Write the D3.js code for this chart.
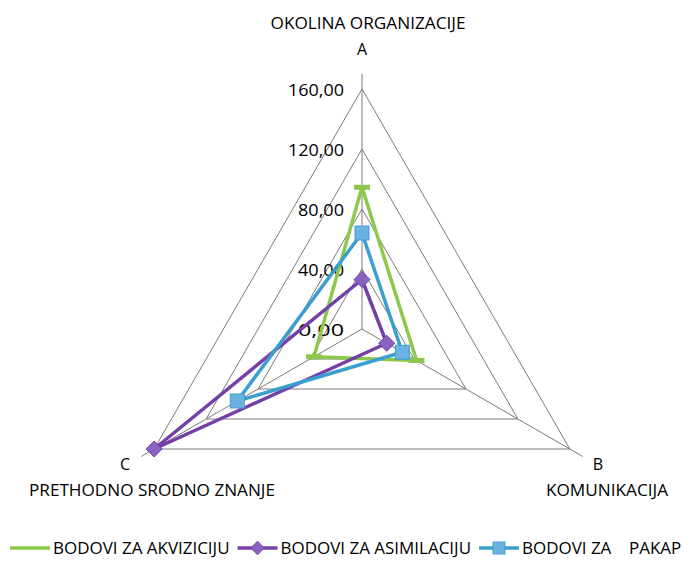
<!DOCTYPE html>
<html><head><meta charset="utf-8">
<script src="https://cdn.jsdelivr.net/npm/d3@7"></script>
<style>body{margin:0;background:#fff}svg{display:block}text{font-family:"Open Sans","Noto Sans",sans-serif;fill:#000}</style>
</head><body><svg id="c" width="697" height="574"></svg>
<script>
const categories = ["A","B","C"];
const categoryNames = ["OKOLINA ORGANIZACIJE","KOMUNIKACIJA","PRETHODNO SRODNO ZNANJE"];
const tickValues = [0,40,80,120,160];
const tickLabels = ["0,00","40,00","80,00","120,00","160,00"];
const seriesNames = ["BODOVI ZA AKVIZICIJU","BODOVI ZA ASIMILACIJU","BODOVI ZA    PAKAP"];
const akvizicija = [94.5, 42, 37];
const asimilacija = [33, 19, 160];
const pakap = [64, 31, 96];

const svg = d3.select("#c");
const cx = 362, cy = 329;
const r = d3.scaleLinear().domain([0,160]).range([0,240]);
const angle = d3.scalePoint().domain(categories).range([0, 2*Math.PI*2/3]);
const pt = (cat, v) => { const a = angle(cat); return [cx + r(v)*Math.sin(a), cy - r(v)*Math.cos(a)]; };

const g = svg.append("g");
tickValues.slice(1).forEach(t => {
  g.append("polygon").attr("points", categories.map(c => pt(c,t).join(",")).join(" "))
   .attr("fill","none").attr("stroke","#7a7a7a").attr("stroke-width",1);
});
categories.forEach(c => {
  const p = pt(c, 170);
  g.append("line").attr("x1",cx).attr("y1",cy).attr("x2",p[0]).attr("y2",p[1]).attr("stroke","#7a7a7a").attr("stroke-width",1);
});
function fit(sel, w){ sel.attr("textLength", w).attr("lengthAdjust","spacingAndGlyphs"); return sel; }
tickValues.forEach((t,i) => {
  const y = cy - r(t);
  const tx = g.append("text").attr("x",344).attr("y",y+7).attr("text-anchor","end").attr("font-size",17).text(tickLabels[i]);
  fit(tx, tickLabels[i].length===6 ? 56 : 46);
});
const catPos = [
  {letter:[362,55], name:[368,29], w:195},
  {letter:[598,470], name:[607,496], w:122},
  {letter:[125,470], name:[152,496], w:246}
];
categories.forEach((c,i) => {
  g.append("text").attr("x",catPos[i].letter[0]).attr("y",catPos[i].letter[1]).attr("text-anchor","middle").attr("font-size",16).text(c);
  fit(g.append("text").attr("x",catPos[i].name[0]).attr("y",catPos[i].name[1]).attr("text-anchor","middle").attr("font-size",16).text(categoryNames[i]), catPos[i].w);
});

const series = [
  {values: akvizicija, color:"#8cc84b", marker:"dash"},
  {values: asimilacija, color:"#7440a8", fill:"#8a63c2", marker:"diamond"},
  {values: pakap, color:"#3a9fcf", fill:"#6cb2e0", marker:"square"}
];
const line = d3.line().curve(d3.curveLinearClosed);
function drawMarker(sel, type, x, y, s, k){
  k = k || 1;
  if(type==="dash") sel.append("rect").attr("x",x-8).attr("y",y-2.5).attr("width",16).attr("height",5).attr("fill",s.color);
  else if(type==="diamond") sel.append("path").attr("d",`M${x},${y-8*k}L${x+8*k},${y}L${x},${y+8*k}L${x-8*k},${y}Z`).attr("fill",s.fill).attr("stroke",s.color).attr("stroke-width",1);
  else sel.append("rect").attr("x",x-7*k).attr("y",y-7*k).attr("width",14*k).attr("height",14*k).attr("fill",s.fill).attr("stroke",s.color).attr("stroke-width",1);
}
series.forEach(s => {
  const pts = categories.map((c,i) => pt(c, s.values[i]));
  g.append("path").attr("d", line(pts)).attr("fill","none").attr("stroke",s.color).attr("stroke-width",3.5).attr("stroke-linejoin","round");
});
series.forEach(s => {
  categories.forEach((c,i) => { const p = pt(c, s.values[i]); drawMarker(g, s.marker, p[0], p[1], s); });
});

// legend: equal font, laid out to span x 10..690
const legY = 548, lineW = 40, gap1 = 3, gap2 = 8;
const texts = series.map((s,i) => g.append("text").attr("y",legY+6).attr("font-size",16).attr("xml:space","preserve").style("white-space","pre").text(seriesNames[i]));
const widths = texts.map(t => t.node().getComputedTextLength());
const total = series.length*(lineW+gap1) + (series.length-1)*gap2 + d3.sum(widths);
const k = 680/total;
let x = 10;
series.forEach((s,i) => {
  const tw = widths[i]*k;
  g.append("line").attr("x1",x).attr("x2",x+lineW).attr("y1",legY).attr("y2",legY).attr("stroke",s.color).attr("stroke-width",3.5);
  if(s.marker!=="dash") drawMarker(g, s.marker, x+lineW/2, legY, s, 0.85);
  texts[i].attr("x", x+lineW+gap1);
  fit(texts[i], tw);
  x += lineW + gap1 + tw + gap2;
});
</script></body></html>
